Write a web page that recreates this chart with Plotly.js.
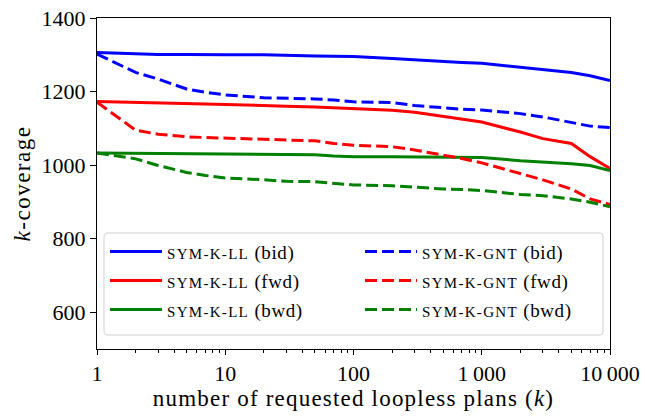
<!DOCTYPE html>
<html>
<head>
<meta charset="utf-8">
<script src="https://cdn.plot.ly/plotly-3.0.1.min.js"></script>
<style>html,body{margin:0;padding:0;background:#fff;}#chart{width:645px;height:416px;}</style>
</head>
<body>
<div id="chart"></div>
<script>
var kValues = [1,2,3,5,7,10,20,30,50,70,100,200,300,500,700,1000,2000,3000,5000,7000,10000];
var llBid  = [1306,1302,1301,1301,1300,1300,1300,1298,1297,1296,1295,1290,1286,1282,1279,1277,1266,1261,1252,1243,1230];
var gntBid = [1302,1252,1234,1207,1198,1191,1183,1182,1180,1177,1172,1170,1162,1156,1152,1150,1140,1131,1115,1106,1102];
var llFwd  = [1173,1170,1168,1167,1166,1165,1163,1160,1158,1156,1153,1149,1144,1132,1124,1117,1090,1072,1059,1023,991];
var gntFwd = [1171,1095,1084,1077,1075,1073,1070,1068,1066,1059,1054,1050,1041,1027,1018,1006,976,960,935,908,893];
var llBwd  = [1033,1032,1032,1031,1031,1030,1030,1029,1028,1025,1023,1023,1023,1023,1022,1021,1012,1009,1004,999,985];
var gntBwd = [1033,1017,999,980,972,965,960,956,955,951,946,944,940,935,934,931,920,917,908,899,887];
var xTickVals = [1,10,100,1000,10000];
var xTickText = ['1','10','100','1\u2009000','10\u2009000'];
var yTickVals = [600,800,1000,1200,1400];

function lbl(name, dir){
  return '<span style="font-size:15px;letter-spacing:1.3px">' + name + '</span><span style="font-size:19px;letter-spacing:0.6px"> (' + dir + ')</span>';
}
function tr(y, name, dir, color, dashed, leg){
  return {x:kValues, y:y, type:'scatter', mode:'lines', name:lbl(name,dir), legend:leg,
    line:{color:color, width:3, dash: dashed ? '12px,5px' : 'solid'}};
}
var data = [
  tr(llBid,'SYM-K-LL','bid','#0000ff',false,'legend'),
  tr(llFwd,'SYM-K-LL','fwd','#ff0000',false,'legend'),
  tr(llBwd,'SYM-K-LL','bwd','#008000',false,'legend'),
  tr(gntBid,'SYM-K-GNT','bid','#0000ff',true,'legend2'),
  tr(gntFwd,'SYM-K-GNT','fwd','#ff0000',true,'legend2'),
  tr(gntBwd,'SYM-K-GNT','bwd','#008000',true,'legend2')
];
var fam = '"Liberation Serif", "DejaVu Serif", serif';
function legendOpts(xpos){
  return {orientation:'v', x:xpos, y:0.3535, xanchor:'left', yanchor:'top',
    bgcolor:'rgba(0,0,0,0)', borderwidth:0, itemwidth:52, font:{size:20}};
}
var layout = {
  width:645, height:416,
  margin:{l:97, r:35, t:18, b:67, autoexpand:false},
  paper_bgcolor:'#fff', plot_bgcolor:'#fff',
  font:{family:fam, color:'#000', size:22},
  showlegend:true,
  xaxis:{type:'log', range:[0,4], tickvals:xTickVals, ticktext:xTickText,
    ticks:'outside', ticklen:5, tickwidth:1, tickcolor:'#000',
    showline:true, linecolor:'#000', linewidth:1, mirror:true,
    showgrid:false, zeroline:false,
    minor:{ticks:'outside', ticklen:3, tickcolor:'#000', tickwidth:1, dtick:'D1', showgrid:false},
    tickfont:{size:22},
    title:{text:'<span style="letter-spacing:1.2px">number of requested loopless plans (<i>k</i>)</span>', font:{size:23}, standoff:1}},
  yaxis:{range:[500,1400], tickvals:yTickVals,
    ticks:'outside', ticklen:6, tickwidth:1, tickcolor:'#000',
    showline:true, linecolor:'#000', linewidth:1, mirror:true,
    showgrid:false, zeroline:false,
    tickfont:{size:22},
    title:{text:'<span style="letter-spacing:1.5px"><i>k</i>-coverage</span>', font:{size:23}, standoff:4}},
  legend:legendOpts(0.0156),
  legend2:legendOpts(0.5127),
  shapes:[{type:'path', xref:'paper', yref:'paper', layer:'below',
    path:'M0.0214,0.3505 L0.9786,0.3505 Q0.9864,0.3505 0.9864,0.3384 L0.9864,0.0544 Q0.9864,0.0423 0.9786,0.0423 L0.0214,0.0423 Q0.0136,0.0423 0.0136,0.0544 L0.0136,0.3384 Q0.0136,0.3505 0.0214,0.3505 Z',
    line:{color:'#d0d0d0', width:1}, fillcolor:'rgba(255,255,255,0.8)'}]
};
Plotly.newPlot('chart', data, layout, {displayModeBar:false, staticPlot:true});
</script>
</body>
</html>
